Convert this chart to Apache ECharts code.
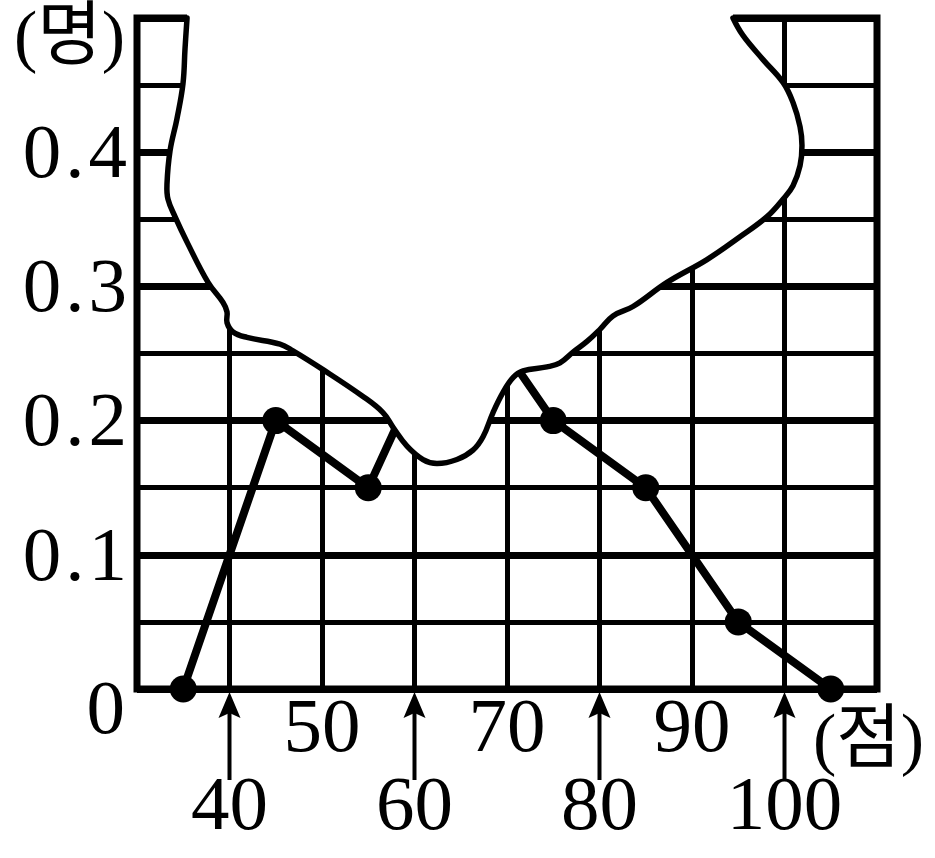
<!DOCTYPE html>
<html>
<head>
<meta charset="utf-8">
<script src="https://cdn.jsdelivr.net/npm/echarts@6/dist/echarts.min.js"></script>
<style>
html,body{margin:0;padding:0;background:#fff;}
#chart{width:935px;height:858px;}
</style>
</head>
<body>
<div id="chart"></div>
<script>
// scores (class midpoints) and relative frequencies
var scores = [35, 45, 55, 65, 75, 85, 95, 105];
var freqs  = [0, 0.2, 0.15, 0.3, 0.2, 0.15, 0.05, 0];
// axis tick labels
var upperXLabels = [50, 70, 90];
var lowerXLabels = [40, 60, 80, 100];
var yLabelValues = [0, 0.1, 0.2, 0.3, 0.4];
var xUnit = '(점)';
var yUnit = '(명)';
// outline of the torn (hidden) part, in data coordinates
var tornX = [35.41,35.19,34.97,34.32,33.57,33.24,33.35,34.11,35.41,37.68,39.30,39.73,39.73,40.38,41.89,45.46,46.86,50.11,54.43,56.59,57.68,59.19,60.92,62.43,64.59,66.32,67.41,68.49,69.57,70.65,71.73,74.32,75.73,77.14,78.65,80.05,81.46,83.62,87.30,91.62,95.19,98.11,99.84,100.92,101.68,101.89,101.68,100.92,99.84,97.68,95.51,94.43];
var tornY = [0.500,0.477,0.451,0.425,0.401,0.376,0.365,0.352,0.333,0.303,0.288,0.281,0.273,0.266,0.262,0.257,0.252,0.238,0.218,0.206,0.195,0.181,0.171,0.168,0.171,0.178,0.188,0.206,0.221,0.232,0.237,0.240,0.243,0.251,0.259,0.268,0.278,0.285,0.303,0.320,0.337,0.352,0.365,0.375,0.390,0.405,0.419,0.437,0.452,0.469,0.487,0.500];

var SERIF = "'Liberation Serif','DejaVu Serif',serif";
var UNITFONT = "'Liberation Serif','Noto Sans CJK KR',serif";
var FS = 77;

var chart = echarts.init(document.getElementById('chart'), null, {renderer: 'canvas'});

function inList(list, v) {
  for (var i = 0; i < list.length; i++) if (Math.abs(list[i] - v) < 1e-6) return true;
  return false;
}

var option = {
  animation: false,
  backgroundColor: '#fff',
  grid: {
    left: 137, top: 18, width: 740, height: 671,
    show: true, borderColor: '#000', borderWidth: 7, backgroundColor: 'transparent',
    containLabel: false, outerBoundsMode: 'none'
  },
  xAxis: {
    type: 'value', min: 30, max: 110, interval: 10,
    name: xUnit, nameLocation: 'end', nameGap: -64, nameMoveOverlap: false,
    nameTextStyle: {fontFamily: UNITFONT, fontSize: 70, lineHeight: 110, color: '#000', align: 'left', verticalAlign: 'top'},
    axisLine: {show: false},
    axisTick: {show: false},
    splitLine: {show: true, lineStyle: {color: '#000', width: 5}},
    axisLabel: {
      show: true, margin: 6, color: '#000', fontFamily: SERIF, fontSize: FS,
      showMinLabel: true, showMaxLabel: true, hideOverlap: false,
      formatter: function (v) {
        if (inList(upperXLabels, v)) return '{up|' + v + '}';
        if (inList(lowerXLabels, v)) return '{dn|' + v + '}';
        return '';
      },
      rich: {
        up: {fontFamily: SERIF, fontSize: FS, lineHeight: 72, color: '#000'},
        dn: {fontFamily: SERIF, fontSize: FS, lineHeight: 72, color: '#000', padding: [156, 0, 0, 0]}
      }
    }
  },
  yAxis: [{
    type: 'value', min: 0, max: 0.5, interval: 0.05,
    name: yUnit, nameLocation: 'end', nameGap: -23, nameMoveOverlap: false,
    nameTextStyle: {fontFamily: UNITFONT, fontSize: 70, color: '#000', align: 'right', verticalAlign: 'middle', padding: [0, 12, 0, 0]},
    axisLine: {show: false},
    axisTick: {show: false},
    splitLine: {show: true, lineStyle: {color: '#000', width: 5}},
    axisLabel: {
      show: true, margin: 10, color: '#000', fontFamily: SERIF, fontSize: FS,
      showMinLabel: true, showMaxLabel: true, hideOverlap: false,
      formatter: function (v) {
        var k = Math.round(v * 100);
        if (k === 0) return '{z|0}';
        if (!inList(yLabelValues, v)) return '';
        var s = (k / 100).toFixed(1).split('.');
        return '{d|' + s[0] + '}{p|.}{d|' + s[1] + '}';
      },
      rich: {
        z: {fontFamily: SERIF, fontSize: FS, color: '#000', padding: [48, 2, 0, 0]},
        d: {fontFamily: SERIF, fontSize: FS, color: '#000', padding: [9, 0, 0, 0]},
        p: {fontFamily: SERIF, fontSize: FS, color: '#000', padding: [9, 4, 0, 4]}
      }
    }
  }, {
    type: 'value', min: 0, max: 0.5, interval: 0.1, position: 'left',
    axisLine: {show: false}, axisTick: {show: false}, axisLabel: {show: false},
    splitLine: {show: true, lineStyle: {color: '#000', width: 7}}
  }],
  series: [
    {
      type: 'custom', name: 'arrows', coordinateSystem: 'cartesian2d', clip: false, z: 3, silent: true,
      data: lowerXLabels.map(function (v) { return [v, 0]; }),
      renderItem: function (params, api) {
        var p = api.coord([api.value(0), 0]);
        return {
          type: 'group',
          children: [
            {type: 'line', shape: {x1: p[0], y1: p[1] + 22, x2: p[0], y2: p[1] + 91},
             style: {stroke: '#000', lineWidth: 4}},
            {type: 'polygon', shape: {points: [[p[0], p[1] + 3], [p[0] - 11, p[1] + 29], [p[0], p[1] + 24], [p[0] + 11, p[1] + 29]]},
             style: {fill: '#000'}}
          ]
        };
      }
    },
    {
      type: 'line', name: 'freq', z: 5, clip: false, silent: true,
      data: scores.map(function (s, i) { return [s, freqs[i]]; }),
      symbol: 'circle', symbolSize: 27,
      lineStyle: {color: '#000', width: 8},
      itemStyle: {color: '#000'}
    },
    {
      type: 'custom', name: 'torn', coordinateSystem: 'cartesian2d', clip: false, z: 10, silent: true,
      data: [[30, 0]],
      renderItem: function (params, api) {
        var pts = tornX.map(function (x, i) { return api.coord([x, tornY[i]]); });
        var fillPts = pts.slice();
        fillPts.push(api.coord([tornX[tornX.length - 1], 0.515]));
        fillPts.push(api.coord([tornX[0], 0.515]));
        return {
          type: 'group',
          children: [
            {type: 'polygon', shape: {points: fillPts}, style: {fill: '#fff'}},
            {type: 'polyline', shape: {points: pts, smooth: 0.4}, style: {stroke: '#000', lineWidth: 5.5, fill: null, lineJoin: 'round', lineCap: 'round'}}
          ]
        };
      }
    }
  ]
};
chart.setOption(option);
</script>
</body>
</html>
